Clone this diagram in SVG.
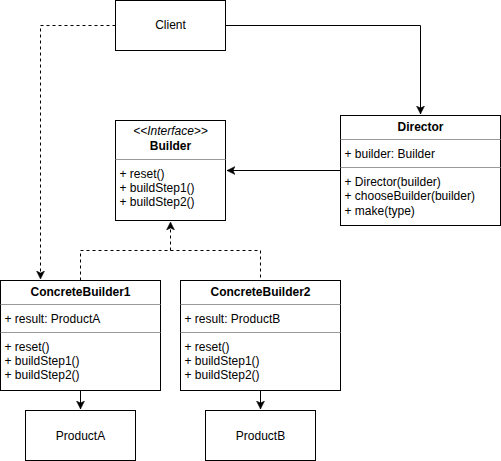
<svg xmlns="http://www.w3.org/2000/svg" width="501" height="461" viewBox="0 0 501 461">
<style>
.box{fill:#fff;stroke:#000;stroke-width:1}
.sep{stroke:#999;stroke-width:1}
text{font-family:"Liberation Sans",Arial,sans-serif;font-size:12px;fill:#000}
.c{text-anchor:middle}
.b{font-weight:bold}
.i{font-style:italic}
.edge{fill:none;stroke:#000;stroke-width:1}
.dash{stroke-dasharray:3,3}
</style>
<defs>
<marker id="arr" markerUnits="userSpaceOnUse" markerWidth="10" markerHeight="10" viewBox="0 0 10 10" refX="8" refY="5" orient="auto">
<path d="M0,1 L8,5 L0,9 L2,5 Z" fill="#000" stroke="#000" stroke-width="0.5"/>
</marker>
</defs>
<rect width="501" height="461" fill="#fff"/>
<g id="connectors">
<path class="edge" d="M225.5,25.5 H420.5 V114" marker-end="url(#arr)"/>
<path class="edge" d="M340.5,170.5 H227" marker-end="url(#arr)"/>
<path class="edge dash" d="M115.5,25.5 H40.5 V279" marker-end="url(#arr)"/>
<path class="edge dash" d="M80.5,280.5 V250.5 H260.5 V280.5"/>
<path class="edge dash" d="M170.5,250.5 V222" marker-end="url(#arr)"/>
<path class="edge" d="M80.5,390.5 V409" marker-end="url(#arr)"/>
<path class="edge" d="M260.5,390.5 V409" marker-end="url(#arr)"/>
</g>
<g id="client">
<rect class="box" x="115.5" y="0.5" width="110" height="50"/>
<text class="c" x="170.5" y="29">Client</text>
</g>
<g id="director">
<rect class="box" x="340.5" y="115.5" width="160" height="110"/>
<line class="sep" x1="340.5" y1="139.5" x2="500.5" y2="139.5"/>
<line class="sep" x1="340.5" y1="167.5" x2="500.5" y2="167.5"/>
<text class="c b" x="420.5" y="131">Director</text>
<text x="344.5" y="157.5">+ builder: Builder</text>
<text x="344.5" y="185.5">+ Director(builder)</text>
<text x="344.5" y="199.5">+ chooseBuilder(builder)</text>
<text x="344.5" y="214.5">+ make(type)</text>
</g>
<g id="builder">
<rect class="box" x="115.5" y="120.5" width="110" height="100"/>
<line class="sep" x1="115.5" y1="159.5" x2="225.5" y2="159.5"/>
<text class="c i" x="170.5" y="135">&lt;&lt;Interface&gt;&gt;</text>
<text class="c b" x="170.5" y="149.5">Builder</text>
<text x="119.5" y="177.5">+ reset()</text>
<text x="119.5" y="191.5">+ buildStep1()</text>
<text x="119.5" y="206">+ buildStep2()</text>
</g>
<g id="concretebuilder1">
<rect class="box" x="0.5" y="280.5" width="160" height="110"/>
<line class="sep" x1="0.5" y1="304.5" x2="160.5" y2="304.5"/>
<line class="sep" x1="0.5" y1="332.5" x2="160.5" y2="332.5"/>
<text class="c b" x="80.5" y="295.5">ConcreteBuilder1</text>
<text x="4.5" y="322.5">+ result: ProductA</text>
<text x="4.5" y="350.5">+ reset()</text>
<text x="4.5" y="364.5">+ buildStep1()</text>
<text x="4.5" y="379">+ buildStep2()</text>
</g>
<g id="concretebuilder2">
<rect class="box" x="180.5" y="280.5" width="160" height="110"/>
<line class="sep" x1="180.5" y1="304.5" x2="340.5" y2="304.5"/>
<line class="sep" x1="180.5" y1="332.5" x2="340.5" y2="332.5"/>
<text class="c b" x="260.5" y="295.5">ConcreteBuilder2</text>
<text x="184.5" y="322.5">+ result: ProductB</text>
<text x="184.5" y="350.5">+ reset()</text>
<text x="184.5" y="364.5">+ buildStep1()</text>
<text x="184.5" y="379">+ buildStep2()</text>
</g>
<g id="productA">
<rect class="box" x="25.5" y="410.5" width="110" height="50"/>
<text class="c" x="80.5" y="439.5">ProductA</text>
</g>
<g id="productB">
<rect class="box" x="205.5" y="410.5" width="110" height="50"/>
<text class="c" x="260.5" y="439.5">ProductB</text>
</g>
</svg>
